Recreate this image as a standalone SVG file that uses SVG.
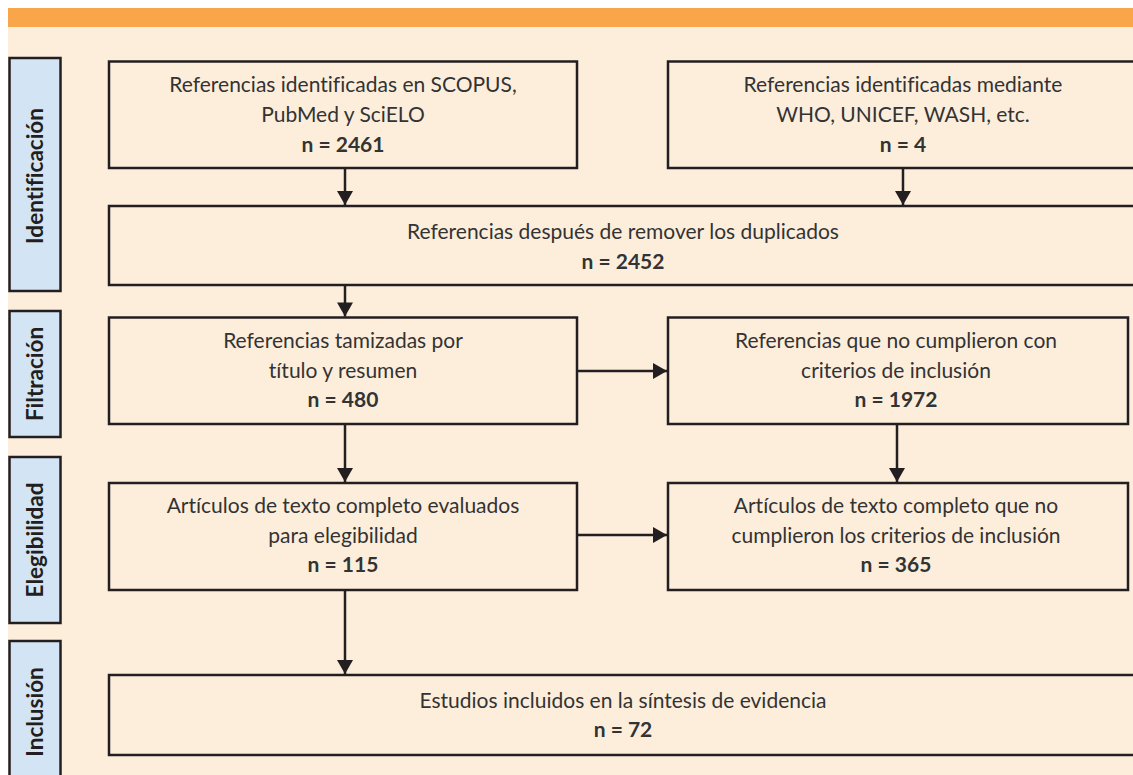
<svg xmlns="http://www.w3.org/2000/svg" width="1133" height="775" viewBox="0 0 1133 775">
<defs>
<style>
.box{fill:#fdeedc;stroke:#231f20;stroke-width:2.5}
.side{fill:#d3e5f4;stroke:#231f20;stroke-width:2.5}
.t{font-family:Lato,"Open Sans",sans-serif;font-size:21px;fill:#333;text-anchor:middle;font-variant-ligatures:none}
.b{font-weight:bold}
.s{font-family:Lato,"Open Sans",sans-serif;font-size:22.5px;font-weight:bold;fill:#231f20;text-anchor:middle;font-variant-ligatures:none}
.c{stroke:#231f20;stroke-width:2.5;fill:none}
</style>
<marker id="ah" markerUnits="userSpaceOnUse" markerWidth="16" markerHeight="16" viewBox="0 0 14 16" refX="14" refY="8" orient="auto">
<path d="M0,0 L14,8 L0,16 Z" fill="#231f20"/>
</marker>
</defs>
<rect x="0" y="0" width="1133" height="775" fill="#ffffff"/>
<rect x="8" y="27" width="1125" height="748" fill="#fdeedc"/>
<rect x="8" y="8" width="1125" height="19" fill="#f9a54a"/>

<g id="lbl-identificacion"><rect class="side" x="9.5" y="58" width="51" height="233"/><text class="s" transform="translate(43,176) rotate(-90)">Identificación</text></g>
<g id="lbl-filtracion"><rect class="side" x="9.5" y="311" width="51" height="126"/><text class="s" transform="translate(43,374) rotate(-90)">Filtración</text></g>
<g id="lbl-elegibilidad"><rect class="side" x="9.5" y="457" width="51" height="166"/><text class="s" transform="translate(43,540) rotate(-90)">Elegibilidad</text></g>
<g id="lbl-inclusion"><rect class="side" x="9.5" y="641" width="51" height="150"/><text class="s" transform="translate(43,712) rotate(-90)">Inclusión</text></g>

<g id="n1"><rect class="box" x="109" y="61.5" width="468" height="106.5"/>
<text class="t" x="343" y="92">Referencias identificadas en SCOPUS,</text>
<text class="t" x="343" y="122">PubMed y SciELO</text>
<text class="t b" x="343" y="152">n = 2461</text></g>

<g id="n2"><rect class="box" x="668" y="61.5" width="470" height="106.5"/>
<text class="t" x="903" y="92">Referencias identificadas mediante</text>
<text class="t" x="903" y="122">WHO, UNICEF, WASH, etc.</text>
<text class="t b" x="903" y="152">n = 4</text></g>

<g id="n3"><rect class="box" x="109" y="206" width="1030" height="79"/>
<text class="t" x="623" y="239">Referencias después de remover los duplicados</text>
<text class="t b" x="623" y="269">n = 2452</text></g>

<g id="n4"><rect class="box" x="109" y="317.5" width="468" height="106.5"/>
<text class="t" x="343" y="348">Referencias tamizadas por</text>
<text class="t" x="343" y="378">título y resumen</text>
<text class="t b" x="343" y="407">n = 480</text></g>

<g id="n5"><rect class="box" x="668" y="317.5" width="460" height="106.5"/>
<text class="t" x="896" y="348">Referencias que no cumplieron con</text>
<text class="t" x="896" y="378">criterios de inclusión</text>
<text class="t b" x="896" y="407">n = 1972</text></g>

<g id="n6"><rect class="box" x="109" y="483" width="468" height="107"/>
<text class="t" x="343" y="513">Artículos de texto completo evaluados</text>
<text class="t" x="343" y="543">para elegibilidad</text>
<text class="t b" x="343" y="572">n = 115</text></g>

<g id="n7"><rect class="box" x="668" y="483" width="460" height="107"/>
<text class="t" x="896" y="513">Artículos de texto completo que no</text>
<text class="t" x="896" y="543">cumplieron los criterios de inclusión</text>
<text class="t b" x="896" y="572">n = 365</text></g>

<g id="n8"><rect class="box" x="109" y="675" width="1030" height="80"/>
<text class="t" x="623" y="708">Estudios incluidos en la síntesis de evidencia</text>
<text class="t b" x="623" y="737">n = 72</text></g>

<g id="connectors">
<line class="c" x1="345" y1="168" x2="345" y2="205" marker-end="url(#ah)"/>
<line class="c" x1="903" y1="168" x2="903" y2="205" marker-end="url(#ah)"/>
<line class="c" x1="345" y1="285" x2="345" y2="316.5" marker-end="url(#ah)"/>
<line class="c" x1="345" y1="424" x2="345" y2="482" marker-end="url(#ah)"/>
<line class="c" x1="897" y1="424" x2="897" y2="482" marker-end="url(#ah)"/>
<line class="c" x1="577" y1="371" x2="667" y2="371" marker-end="url(#ah)"/>
<line class="c" x1="577" y1="535" x2="667" y2="535" marker-end="url(#ah)"/>
<line class="c" x1="345" y1="590" x2="345" y2="674" marker-end="url(#ah)"/>
</g>
</svg>
